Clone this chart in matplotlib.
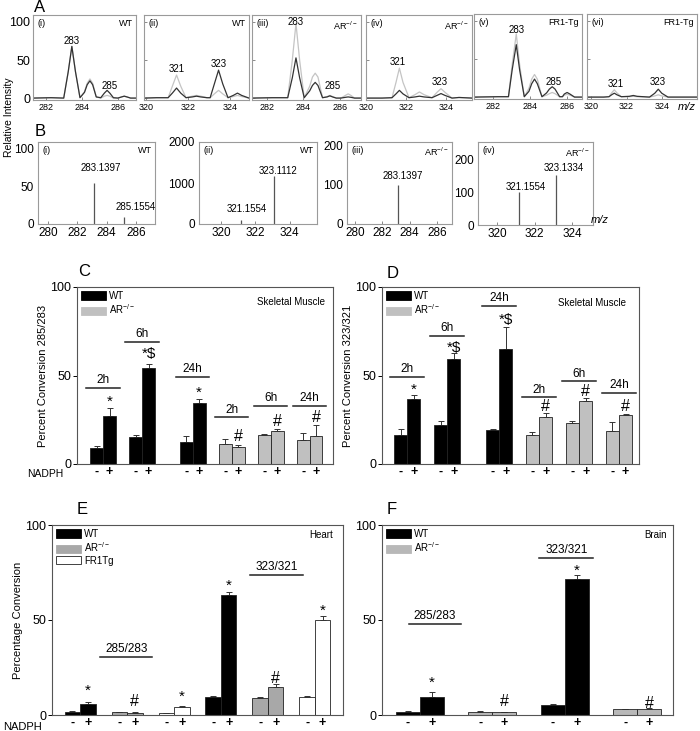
import numpy as np
import matplotlib
matplotlib.use("Agg")
import matplotlib.pyplot as plt
from matplotlib.patches import Patch

plt.rcParams['font.family'] = ['Liberation Sans', 'DejaVu Sans']
plt.rcParams['mathtext.fontset'] = 'custom'
plt.rcParams['mathtext.rm'] = 'Liberation Sans'
plt.rcParams['mathtext.it'] = 'Liberation Sans:italic'

AR = 'AR$^{-/-}$'

# ---- panel A: profile spectra (black = sample, gray = overlay)
A1_mz = [281.3, 282.3, 283.0, 283.25, 283.45, 283.65, 283.9, 284.15, 284.3, 284.45, 284.6, 284.8,
         285.05, 285.25, 285.4, 285.55, 285.75, 286.0, 286.2, 286.35, 286.5, 286.7, 287.0]
A1_black = [0.5, 1, 0.5, 35, 68, 35, 1, 8, 18, 23, 18, 2, 1, 7, 10.6, 7, 1, 0.5, 2, 3, 2, 0.5, 0.5]
A1_gray = [0.5, 1, 0.5, 35, 68, 35, 1, 9, 20, 25.5, 20, 2, 0.5, 3, 4, 3, 0.5, 0.5, 2, 3, 2, 0.5, 0.5]

A2_mz = [319.9, 320.5, 321.05, 321.25, 321.45, 321.65, 321.9, 322.2, 322.4, 322.6, 322.9, 323.05,
         323.25, 323.45, 323.65, 323.9, 324.15, 324.35, 324.55, 324.9]
A2_black = [0.5, 1, 1, 7, 13.6, 7, 1, 2, 3, 2, 1, 1, 19, 37, 19, 1, 4, 7, 4, 0.5]
A2_gray = [0.5, 1, 1, 16, 30.6, 16, 1, 3, 4, 3, 1, 1, 6, 10.6, 6, 1, 2.5, 4, 2.5, 0.5]

A3_mz = [281.2, 282.3, 283.15, 283.4, 283.6, 283.8, 284.05, 284.35, 284.5, 284.65, 284.8, 285.05,
         285.3, 285.45, 285.6, 285.8, 286.05, 286.3, 286.45, 286.6, 286.8, 287.15]
A3_black = [0.5, 1, 1, 27, 53, 27, 1, 10, 17, 21, 17, 1, 2, 3.4, 2, 0.5, 0.5, 1.5, 2, 1.5, 0.5, 0.5]
A3_gray = [0.5, 1, 1, 50, 98, 50, 1, 16, 28, 33, 28, 1, 2.5, 4, 2.5, 0.5, 0.5, 4, 6, 4, 0.5, 0.5]

A4_mz = [320.0, 320.8, 321.3, 321.5, 321.67, 321.85, 322.15, 322.45, 322.67, 322.9, 323.3, 323.55,
         323.75, 323.95, 324.3, 324.65, 325.3]
A4_black = [0.5, 0.5, 1, 6, 10.6, 6, 1, 2, 3, 2, 1, 4, 6.4, 4, 0.5, 1.3, 0.5]
A4_gray = [0.5, 0.5, 1, 21, 39.6, 21, 1, 5, 8.5, 5, 1, 8, 12.8, 8, 0.5, 1.3, 0.5]

A5_mz = [281.0, 282.3, 282.85, 283.05, 283.27, 283.45, 283.7, 283.95, 284.1, 284.25, 284.4, 284.65,
         284.9, 285.05, 285.2, 285.35, 285.6, 285.75, 285.85, 286.0, 286.15, 286.4, 286.8]
A5_black = [0.5, 1, 1, 36, 69, 36, 1, 8, 18, 24, 18, 1, 6, 11, 14, 11, 1, 1, 4.5, 6.5, 4.5, 0.5, 0.5]
A5_gray = [0.5, 1, 1, 43, 83, 43, 1, 12, 24, 30, 24, 1, 3, 5, 6.5, 5, 1, 1, 3, 4, 3, 0.5, 0.5]

A6_mz = [319.75, 320.7, 321.0, 321.15, 321.3, 321.45, 321.7, 322.15, 322.38, 322.6, 323.3, 323.6,
         323.8, 324.0, 324.35, 326.0]
A6_black = [0.5, 0.5, 1, 3.5, 5.6, 3.5, 1, 1.5, 2.6, 1.5, 0.5, 5.5, 10.8, 5.5, 0.5, 0.5]
A6_gray = [0.5, 0.5, 1, 6, 10, 6, 1, 1, 1.5, 1, 0.5, 2, 3.5, 2, 0.5, 0.5]

A_tags = ['(i)', '(ii)', '(iii)', '(iv)', '(v)', '(vi)']
A_geno = ['WT', 'WT', AR, AR, 'FR1-Tg', 'FR1-Tg']
A_peaks = [[('283', 283.45, 74.5), ('285', 285.55, 16)],
           [('321', 321.45, 39), ('323', 323.45, 45)],
           [('283', 283.6, 100), ('285', 285.6, 16)],
           [('321', 321.6, 47), ('323', 323.7, 21)],
           [('283', 283.27, 88), ('285', 285.3, 20)],
           [('321', 321.4, 17), ('323', 323.75, 20)]]

# ---- panel B: centroid (stick) spectra
B1_mz, B1_int = [283.1397, 285.1554], [54, 9]
B2_mz, B2_int = [321.1554, 323.1112], [100, 1180]
B3_mz, B3_int = [283.1397], [100]
B4_mz, B4_int = [321.1554, 323.1334], [100, 153]
B_tags = ['(i)', '(ii)', '(iii)', '(iv)']
B_geno = ['WT', 'WT', AR, AR]

# ---- panel C: skeletal muscle 285/283
C_times = ['2h', '6h', '24h', '2h', '6h', '24h']
C_geno = ['WT', 'WT', 'WT', 'AR', 'AR', 'AR']
C_minus = [9, 15, 12.4, 11.3, 16.3, 13.3]
C_minus_err = [1, 1.3, 3.6, 2.7, 0.4, 4.2]
C_plus = [27, 54.4, 34.7, 9.6, 18.4, 16.1]
C_plus_err = [4.5, 2.1, 2.3, 1.4, 1.6, 5.9]
C_marks = ['*', '*$', '*', '#', '#', '#']
C_mark_y = [35, 62, 40, 15.5, 24, 26]
C_line_y = [42.8, 69, 49, 26.3, 32.8, 32.8]

# ---- panel D: skeletal muscle 323/321
D_times = C_times
D_geno = C_geno
D_minus = [16.6, 21.8, 19.2, 16.6, 23.2, 18.5]
D_minus_err = [3.2, 2.3, 0.6, 1.7, 1.3, 5]
D_plus = [36.7, 59.5, 65, 26.6, 35.8, 27.7]
D_plus_err = [2.1, 3, 12.4, 2.4, 1.5, 0.5]
D_marks = ['*', '*$', '*$', '#', '#', '#']
D_mark_y = [42, 65.5, 81.5, 32.6, 41, 32.6]
D_line_y = [49, 72.5, 89.5, 37.7, 46.7, 40]

# ---- panel E: heart
E_geno = ['WT', 'AR', 'FR1Tg', 'WT', 'AR', 'FR1Tg']
E_minus = [1.75, 1.4, 1.0, 9.6, 8.8, 9.6]
E_minus_err = [0.2, 0.3, 0.2, 0.4, 0.5, 0.4]
E_plus = [5.6, 1.2, 4.0, 63.2, 14.6, 50]
E_plus_err = [1.4, 0.2, 0.5, 1.8, 1.7, 2]
E_marks = ['*', '#', '*', '*', '#', '*']
E_mark_y = [13, 7, 9.6, 68, 19, 55]
E_ratio_y = [30.7, 73.7]

# ---- panel F: brain
F_geno = ['WT', 'AR', 'WT', 'AR']
F_minus = [1.75, 1.75, 5.3, 3.0]
F_minus_err = [0.25, 0.25, 0.5, 0.3]
F_plus = [9.6, 1.4, 71.4, 3.3]
F_plus_err = [2.7, 0.35, 2.3, 0.4]
F_marks = ['*', '#', '*', '#']
F_mark_y = [16.7, 7, 76, 6]
F_ratio_y = [47.9, 82.5]

RATIOS = ['285/283', '323/321']

W, H = 700, 731
fig = plt.figure(figsize=(7.0, 7.31), dpi=100)


def px_axes(l, t, r, b):
    # axes from pixel box (left, top, right, bottom)
    return fig.add_axes([l / W, 1 - b / H, (r - l) / W, (b - t) / H])


def thin_frame(ax, color='#9a9a9a'):
    for s in ax.spines.values():
        s.set_color(color)
        s.set_linewidth(0.8)
    ax.tick_params(direction='in', length=2, width=0.6, color='#777', labelsize=6, pad=2)


# ---------------- A
A_boxes = [(33, 15, 136, 100), (144, 15, 249, 100), (252, 15, 361, 100),
           (366, 15, 472, 100), (474, 14, 582, 99), (587, 14, 697, 99)]
A_data = [(A1_mz, A1_black, A1_gray), (A2_mz, A2_black, A2_gray), (A3_mz, A3_black, A3_gray),
          (A4_mz, A4_black, A4_gray), (A5_mz, A5_black, A5_gray), (A6_mz, A6_black, A6_gray)]
A_ticks = [[282, 284, 286], [320, 322, 324]] * 3
for i, box in enumerate(A_boxes):
    ax = px_axes(*box)
    mz, blk, gry = A_data[i]
    ax.plot(mz, gry, color='#c4c4c4', lw=0.9)
    ax.plot(mz, blk, color='#333333', lw=0.9)
    ax.set_xlim(mz[0], mz[-1])
    ax.set_ylim(-2, 109)
    ax.set_xticks(A_ticks[i])
    ax.set_yticks([0, 50, 100])
    thin_frame(ax)
    ax.tick_params(axis='x', labelsize=6.5)
    if i == 0:
        ax.tick_params(axis='y', labelsize=9, direction='out', length=0)
    else:
        ax.set_yticklabels([])
    ax.text(0.04, 0.95, A_tags[i], transform=ax.transAxes, fontsize=6.5, va='top')
    ax.text(0.97, 0.95, A_geno[i], transform=ax.transAxes, fontsize=6.5, va='top', ha='right')
    for lab, x, y in A_peaks[i]:
        ax.text(x, y, lab, fontsize=7, ha='center', va='center')

fig.text(687 / W, 1 - 107 / H, 'm/z', fontsize=8, style='italic', ha='center', va='center')
fig.text(40 / W, 1 - 7 / H, 'A', fontsize=12, ha='center', va='center')
fig.text(9 / W, 1 - 117 / H, 'Relative Intensity', fontsize=7.5, rotation=90, ha='center', va='center')

# ---------------- B
B_boxes = [(38, 142, 155, 224), (199, 142, 317, 224), (347, 142, 452, 224), (478, 142, 593, 225)]
B_data = [(B1_mz, B1_int), (B2_mz, B2_int), (B3_mz, B3_int), (B4_mz, B4_int)]
B_xlim = [(279.3, 287.3), (318.7, 325.6), (279.4, 287.1), (319.0, 325.1)]
B_ylim = [108, 2000, 210, 255]
B_yticks = [[0, 50, 100], [0, 1000, 2000], [0, 100, 200], [0, 100, 200]]
B_xticks = [[280, 282, 284, 286], [320, 322, 324], [280, 282, 284, 286], [320, 322, 324]]
B_lab_pos = [[(283.6, 74), (285.95, 22)], [(321.5, 360), (323.3, 1300)],
             [(283.5, 124)], [(321.55, 117), (323.55, 175)]]
for i, box in enumerate(B_boxes):
    ax = px_axes(*box)
    mz, inten = B_data[i]
    ax.vlines(mz, 0, inten, color='#555555', lw=0.9)
    ax.set_xlim(*B_xlim[i])
    ax.set_ylim(0, B_ylim[i])
    ax.set_xticks(B_xticks[i])
    ax.set_yticks(B_yticks[i])
    thin_frame(ax)
    ax.tick_params(labelsize=8.5)
    ax.tick_params(axis='y', length=0, pad=3)
    ax.text(0.04, 0.95, B_tags[i], transform=ax.transAxes, fontsize=6.5, va='top')
    ax.text(0.97, 0.95, B_geno[i], transform=ax.transAxes, fontsize=6.5, va='top', ha='right')
    for m, (x, y) in zip(mz, B_lab_pos[i]):
        ax.text(x, y, f'{m:.4f}', fontsize=7, ha='center', va='center')

fig.text(600 / W, 1 - 220 / H, 'm/z', fontsize=8, style='italic', ha='center', va='center')
fig.text(40 / W, 1 - 131 / H, 'B', fontsize=12, ha='center', va='center')

# ---------------- bar panels
FILL = {'WT': 'black', 'AR': '#c0c0c0', 'FR1Tg': 'white'}
BW = 0.33


def bar_panel(ax, pos, geno, minus, minus_err, plus, plus_err, ar_color='#c0c0c0'):
    pos = np.asarray(pos, dtype=float)
    cols = [ar_color if g == 'AR' else FILL[g] for g in geno]
    n = len(pos)
    ax.bar(pos - BW / 2, minus, BW, color=cols, edgecolor='#222', lw=0.6, zorder=2)
    ax.bar(pos + BW / 2, plus, BW, color=cols, edgecolor='#222', lw=0.6, zorder=2)
    ax.errorbar(pos - BW / 2, minus, yerr=[np.zeros(n), minus_err], fmt='none', ecolor='#333',
                elinewidth=0.7, capsize=2.5, capthick=0.7, zorder=1)
    ax.errorbar(pos + BW / 2, plus, yerr=[np.zeros(n), plus_err], fmt='none', ecolor='#333',
                elinewidth=0.7, capsize=2.5, capthick=0.7, zorder=1)
    ax.set_ylim(0, 100)
    ax.set_yticks([0, 50, 100])
    ax.set_xticks(np.concatenate([pos - BW / 2, pos + BW / 2]))
    ax.set_xticklabels(['-'] * n + ['+'] * n, fontsize=9, fontweight='bold')
    ax.tick_params(axis='x', length=0, pad=1.5)
    ax.tick_params(axis='y', direction='out', length=3, width=0.7, labelsize=9, pad=1)
    for s in ax.spines.values():
        s.set_color('#555')
        s.set_linewidth(0.8)
    return pos


def labels_above(ax, pos, marks, mark_y, texts=None, line_y=None, half=0.43):
    for k, p in enumerate(pos):
        ax.text(p + BW / 2, mark_y[k], marks[k], fontsize=11.5 if '#' in marks[k] else 11,
                ha='center', va='center')
        if texts is not None:
            ax.plot([p - half, p + half], [line_y[k], line_y[k]], color='#222', lw=1.1)
            ax.text(p, line_y[k] + 1.0, texts[k], fontsize=8.5, ha='center', va='bottom')


def legend(ax, names, cols, y0=0.99):
    handles = [Patch(facecolor=c, edgecolor='#222' if c == 'white' else c, lw=0.6) for c in cols]
    ax.legend(handles, names, loc='upper left', frameon=False, fontsize=7, handlelength=2.6,
              handleheight=0.9, handletextpad=0.3, labelspacing=0.15, borderaxespad=0.2,
              borderpad=0.2)


GROUP_POS = [0, 1, 2.3, 3.3, 4.3, 5.3]

# C
ax = px_axes(77, 287, 333, 464)
pos = bar_panel(ax, GROUP_POS, C_geno, C_minus, C_minus_err, C_plus, C_plus_err)
ax.set_xlim(-0.67, 5.9)
labels_above(ax, pos, C_marks, C_mark_y, C_times, C_line_y)
legend(ax, ['WT', AR], ['black', '#c0c0c0'])
ax.text(0.97, 0.915, 'Skeletal Muscle', transform=ax.transAxes, fontsize=7, ha='right', va='center')
ax.set_ylabel('Percent Conversion 285/283', fontsize=8, labelpad=2)
fig.text(84 / W, 1 - 272 / H, 'C', fontsize=12, ha='center', va='center')
fig.text(45 / W, 1 - 474 / H, 'NADPH', fontsize=7.5, ha='center', va='center')

# D
ax = px_axes(382, 287, 639, 464)
pos = bar_panel(ax, GROUP_POS, D_geno, D_minus, D_minus_err, D_plus, D_plus_err)
ax.set_xlim(-0.63, 5.8)
labels_above(ax, pos, D_marks, D_mark_y, D_times, D_line_y)
legend(ax, ['WT', AR], ['black', '#c0c0c0'])
ax.text(0.95, 0.91, 'Skeletal Muscle', transform=ax.transAxes, fontsize=7, ha='right', va='center')
ax.set_ylabel('Percent Conversion 323/321', fontsize=8, labelpad=2)
fig.text(393 / W, 1 - 273 / H, 'D', fontsize=12, ha='center', va='center')

# E
ax = px_axes(52, 525, 343, 715)
pos = bar_panel(ax, range(6), E_geno, E_minus, E_minus_err, E_plus, E_plus_err, ar_color='#a8a8a8')
ax.set_xlim(-0.6, 5.6)
labels_above(ax, pos, E_marks, E_mark_y)
for k, (c, hw) in enumerate([(0.98, 0.55), (4.18, 0.56)]):
    ax.plot([c - hw, c + hw], [E_ratio_y[k], E_ratio_y[k]], color='#222', lw=1.1)
    ax.text(c, E_ratio_y[k] + 1.0, RATIOS[k], fontsize=8.5, ha='center', va='bottom')
legend(ax, ['WT', AR, 'FR1Tg'], ['black', '#a8a8a8', 'white'])
ax.text(0.965, 0.947, 'Heart', transform=ax.transAxes, fontsize=7, ha='right', va='center')
ax.set_ylabel('Percentage Conversion', fontsize=8, labelpad=2)
fig.text(82 / W, 1 - 510 / H, 'E', fontsize=12, ha='center', va='center')
fig.text(22 / W, 1 - 727 / H, 'NADPH', fontsize=8, ha='center', va='center')

# F
ax = px_axes(382, 525, 673, 715)
pos = bar_panel(ax, range(4), F_geno, F_minus, F_minus_err, F_plus, F_plus_err, ar_color='#b8b8b8')
ax.set_xlim(-0.52, 3.49)
labels_above(ax, pos, F_marks, F_mark_y)
for k, (c, hw) in enumerate([(0.21, 0.36), (2.02, 0.37)]):
    ax.plot([c - hw, c + hw], [F_ratio_y[k], F_ratio_y[k]], color='#222', lw=1.1)
    ax.text(c, F_ratio_y[k] + 1.0, RATIOS[k], fontsize=8.5, ha='center', va='bottom')
legend(ax, ['WT', AR], ['black', '#b8b8b8'])
ax.text(0.98, 0.947, 'Brain', transform=ax.transAxes, fontsize=7, ha='right', va='center')
fig.text(392 / W, 1 - 510 / H, 'F', fontsize=12, ha='center', va='center')

fig.savefig('out.png', dpi=100)
